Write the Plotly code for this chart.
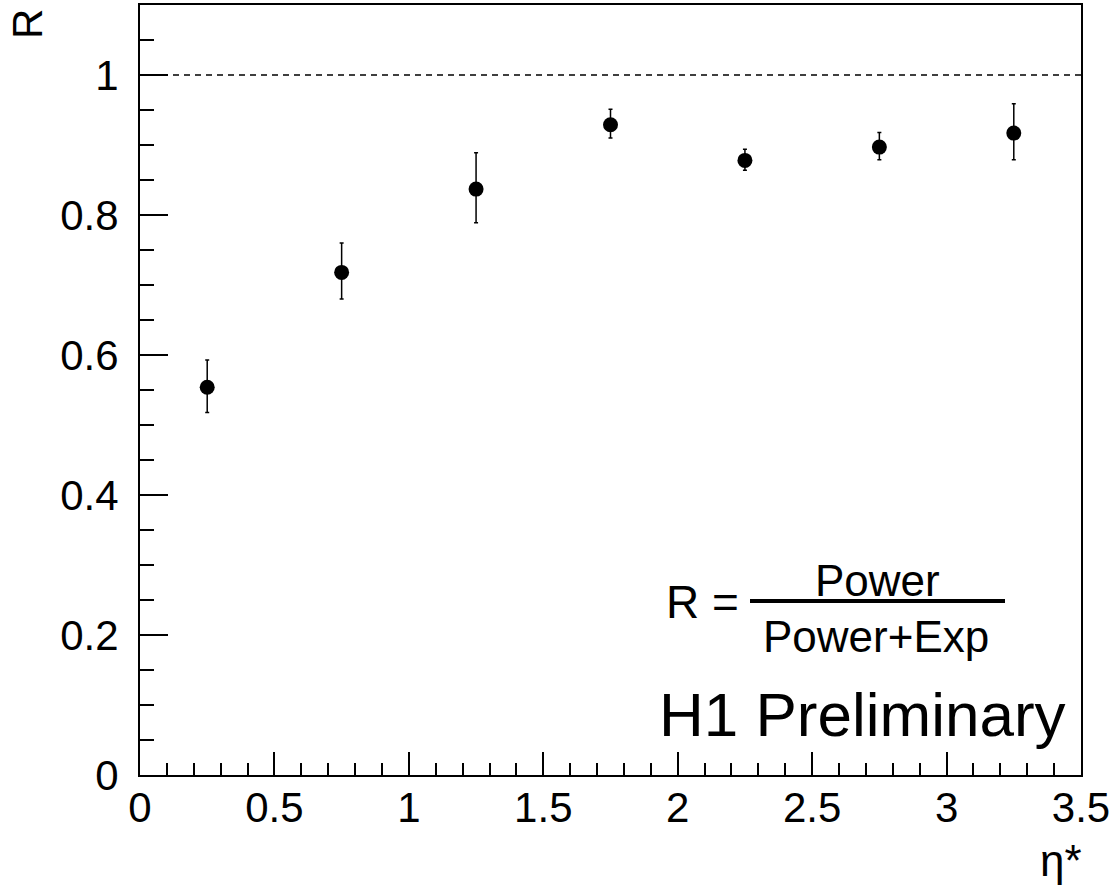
import plotly.graph_objects as go

# ---- data ----
eta = [0.25, 0.75, 1.25, 1.75, 2.25, 2.75, 3.25]
R_vals = [0.554, 0.718, 0.837, 0.929, 0.878, 0.897, 0.917]
err_up = [0.039, 0.042, 0.052, 0.022, 0.016, 0.021, 0.042]
err_down = [0.036, 0.038, 0.048, 0.019, 0.014, 0.018, 0.038]
ref_level = 1.0
x_range = [0, 3.5]
y_range = [0, 1.1]
x_ticks = [0, 0.5, 1, 1.5, 2, 2.5, 3, 3.5]
x_ticklabels = ["0", "0.5", "1", "1.5", "2", "2.5", "3", "3.5"]
y_ticks = [0, 0.2, 0.4, 0.6, 0.8, 1.0]
y_ticklabels = ["0", "0.2", "0.4", "0.6", "0.8", "1"]

FONT = "Liberation Sans, Arial, sans-serif"

W, H = 1110, 886
L, Rm, T, B = 140, 29, 5, 111
PW, PH = W - L - Rm, H - T - B


def px(xp):
    return (xp - L) / PW


def py(yp):
    return (H - B - yp) / PH


fig = go.Figure()

fig.add_trace(go.Scatter(
    x=eta, y=R_vals, mode="markers",
    marker=dict(symbol="circle", size=15, color="black"),
    error_y=dict(type="data", array=err_up, arrayminus=err_down,
                 symmetric=False, color="black", thickness=1.5, width=2),
    showlegend=False, cliponaxis=False,
))

# reference line at R = 1
fig.add_shape(type="line", xref="x", yref="y",
              x0=x_range[0], x1=x_range[1], y0=ref_level, y1=ref_level,
              line=dict(color="black", width=1.5, dash="6px,5px"), layer="below")

fig.update_layout(
    width=W, height=H,
    margin=dict(l=L, r=Rm, t=T, b=B, pad=0, autoexpand=False),
    paper_bgcolor="white", plot_bgcolor="white",
    font=dict(family=FONT, color="black"),
    xaxis=dict(
        range=x_range, showgrid=False, zeroline=False, automargin=False,
        showline=True, mirror=True, linecolor="black", linewidth=2,
        ticks="inside", ticklen=23, tickwidth=2, tickcolor="black",
        tickmode="array", tickvals=x_ticks, ticktext=x_ticklabels,
        minor=dict(ticks="inside", ticklen=12, tickwidth=2, tickcolor="black",
                   tickmode="linear", tick0=0, dtick=0.1),
        tickfont=dict(size=42, family=FONT),
        ticklabelstandoff=-5, ticklabeloverflow="allow",
    ),
    yaxis=dict(
        range=y_range, showgrid=False, zeroline=False, automargin=False,
        showline=True, mirror=True, linecolor="black", linewidth=2,
        ticks="inside", ticklen=28, tickwidth=2, tickcolor="black",
        tickmode="array", tickvals=y_ticks, ticktext=y_ticklabels,
        minor=dict(ticks="inside", ticklen=14, tickwidth=2, tickcolor="black",
                   tickmode="linear", tick0=0, dtick=0.05),
        tickfont=dict(size=42, family=FONT),
        ticklabelstandoff=11, ticklabeloverflow="allow",
    ),
)

ann = []
# axis titles
ann.append(dict(text="R", xref="paper", yref="paper", x=px(28), y=py(24),
                xanchor="center", yanchor="middle", textangle=-90,
                showarrow=False, font=dict(size=42, family=FONT)))
ann.append(dict(text="η*", xref="paper", yref="paper", x=px(1084), y=py(860),
                xanchor="right", yanchor="middle",
                showarrow=False, font=dict(size=44, family=FONT)))
# formula
ann.append(dict(text="R =", xref="paper", yref="paper", x=px(664), y=py(602),
                xanchor="left", yanchor="middle",
                showarrow=False, font=dict(size=46, family=FONT)))
ann.append(dict(text="Power", xref="paper", yref="paper", x=px(877), y=py(580),
                xanchor="center", yanchor="middle",
                showarrow=False, font=dict(size=44, family=FONT)))
ann.append(dict(text="Power+Exp", xref="paper", yref="paper", x=px(876), y=py(636),
                xanchor="center", yanchor="middle",
                showarrow=False, font=dict(size=44, family=FONT)))
ann.append(dict(text="H1 Preliminary", xref="paper", yref="paper", x=px(1068), y=py(714),
                xanchor="right", yanchor="middle",
                showarrow=False, font=dict(size=62, family=FONT)))
fig.update_layout(annotations=ann)

# fraction bar
fig.add_shape(type="line", xref="paper", yref="paper",
              x0=px(750), x1=px(1005), y0=py(601), y1=py(601),
              line=dict(color="black", width=4))

fig.write_html("out.html")
